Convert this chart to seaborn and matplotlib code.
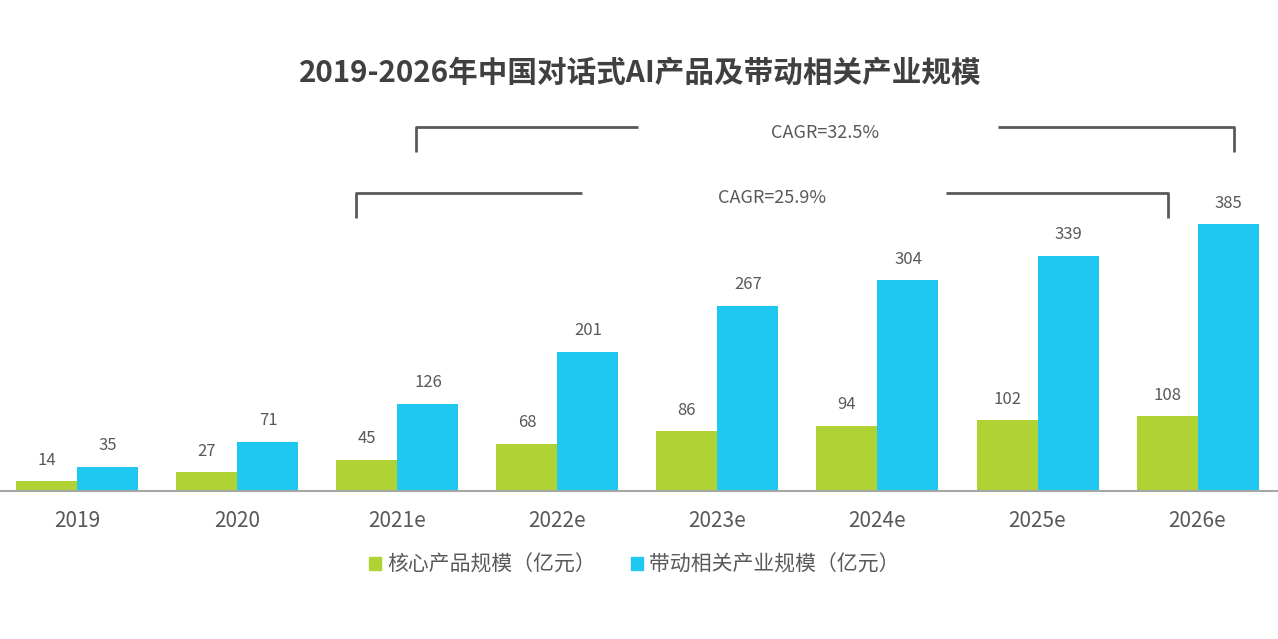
import pandas as pd
import seaborn as sns
from matplotlib import pyplot as plt
from matplotlib.patches import Patch

years = ["2019", "2020", "2021e", "2022e", "2023e", "2024e", "2025e", "2026e"]
core_values = [14, 27, 45, 68, 86, 94, 102, 108]
driven_values = [35, 71, 126, 201, 267, 304, 339, 385]
series_names = ["核心产品规模（亿元）", "带动相关产业规模（亿元）"]
cagr_labels = ["CAGR=32.5%", "CAGR=25.9%"]

GREEN = "#B1D235"
CYAN = "#1EC8F0"
LINE = "#595959"
TEXT = "#595959"


def main():
    data = pd.DataFrame({
        "year": years * 2,
        "value": core_values + driven_values,
        "series": [series_names[0]] * len(years) + [series_names[1]] * len(years),
    })

    sns.set_style("white")
    plt.rcParams["font.family"] = ["Noto Sans CJK SC", "DejaVu Sans"]

    fig = plt.figure(figsize=(12.78, 6.39), dpi=100)
    ax = fig.add_axes([0, 0.2316, 1, 0.5962])

    sns.barplot(data, x="year", y="value", hue="series", order=years,
                hue_order=series_names, palette=[GREEN, CYAN],
                width=0.7625, gap=0, saturation=1, errorbar=None,
                linewidth=0, legend=False, ax=ax)

    for container in ax.containers:
        ax.bar_label(container, padding=9, fontsize=12, color=TEXT)

    ax.set_xlim(-0.484, 7.503)
    ax.set_ylim(0, 549.4)
    ax.set_xlabel(None)
    ax.set_ylabel(None)
    ax.set_yticks([])
    ax.tick_params(axis="x", length=0, labelsize=15, labelcolor=TEXT, pad=14)
    for side in ["top", "left", "right"]:
        ax.spines[side].set_visible(False)
    ax.spines["bottom"].set_color("#A6A6A6")
    ax.spines["bottom"].set_linewidth(1.5)

    # CAGR brackets (data coords)
    kw = dict(color=LINE, lw=2, solid_capstyle="butt", clip_on=False)
    # upper bracket
    ax.plot([2.116, 2.116, 3.503], [488.8, 524.9, 524.9], **kw)
    ax.plot([5.753, 7.228, 7.228], [524.9, 524.9, 488.8], **kw)
    ax.text(4.672, 516, cagr_labels[0], ha="center", va="center",
            fontsize=13, color=TEXT)
    # lower bracket
    ax.plot([1.741, 1.741, 3.153], [393.7, 429.7, 429.7], **kw)
    ax.plot([5.428, 6.815, 6.815], [429.7, 429.7, 393.7], **kw)
    ax.text(4.341, 422.5, cagr_labels[1], ha="center", va="center",
            fontsize=13, color=TEXT)

    handles = [Patch(color=GREEN), Patch(color=CYAN)]
    fig.legend(handles, series_names, loc="center", bbox_to_anchor=(0.4965, 0.116),
               ncol=2, frameon=False, fontsize=15, labelcolor=TEXT,
               handlelength=0.55, handleheight=0.55, handletextpad=0.3,
               columnspacing=1.7)

    fig.text(0.501, 0.887, "2019-2026年中国对话式AI产品及带动相关产业规模",
             ha="center", va="center", fontsize=21.3, fontweight="bold",
             color="#404040")

    fig.savefig("out.png", dpi=100)


if __name__ == '__main__':
    main()
